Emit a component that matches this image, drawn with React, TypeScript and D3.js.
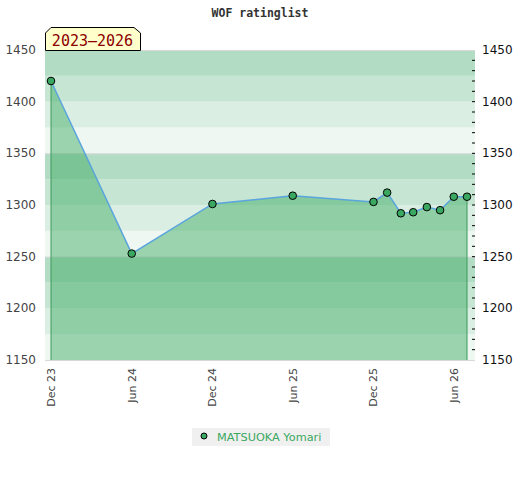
import React from 'react';
import * as d3 from 'd3';

const dates = [
  '2023-12-01', '2024-06-01', '2024-12-01', '2025-06-01', '2025-12-01', '2026-01-01',
  '2026-02-01', '2026-03-01', '2026-04-01', '2026-05-01', '2026-06-01', '2026-07-01',
];
const ratings = [1420, 1253, 1301, 1309, 1303, 1312, 1292, 1293, 1298, 1295, 1308, 1308];
const yTicks = [1150, 1200, 1250, 1300, 1350, 1400, 1450];
const xTickDates = ['2023-12-01', '2024-06-01', '2024-12-01', '2025-06-01', '2025-12-01', '2026-06-01'];
const playerName = 'MATSUOKA Yomari';
const chartTitle = 'WOF ratinglist';
const periodLabel = '2023\u20132026';

const W = 520;
const H = 480;
const plot = { left: 45, right: 475, top: 50, bottom: 360 };
const bandColors = ['#b2dcc3', '#c7e5d3', '#dbeee3', '#eef7f2'];
const green = '#3aa860';

type Pt = { date: Date; value: number };

export default function App() {
  const parse = (s: string) => new Date(s + 'T00:00:00');
  const data: Pt[] = dates.map((d, i) => ({ date: parse(d), value: ratings[i] }));

  const x = d3
    .scaleTime()
    .domain([data[0].date, data[data.length - 1].date])
    .range([51, 467]);
  const y = d3.scaleLinear().domain([1150, 1450]).range([plot.bottom, plot.top]);

  const line = d3
    .line<Pt>()
    .x(d => x(d.date))
    .y(d => y(d.value));
  const area = d3
    .area<Pt>()
    .x(d => x(d.date))
    .y0(y(1150))
    .y1(d => y(d.value));

  const bands = d3.range(1150, 1450, 25);
  const minorTicks = d3.range(1160, 1450, 10);
  const fmt = d3.timeFormat('%b %y');
  const first = data[0];
  const last = data[data.length - 1];

  return (
    <svg
      width={W}
      height={H}
      style={{ position: 'absolute', left: 0, top: 0, background: '#fff' }}
      fontFamily="DejaVu Sans, sans-serif"
    >
      <text
        x={260}
        y={17}
        textAnchor="middle"
        fontFamily="DejaVu Sans Mono, monospace"
        fontWeight="bold"
        fontSize={11.5}
        fill="#333"
      >
        {chartTitle}
      </text>

      {/* background bands */}
      {bands.map(b => {
        const idx = Math.round((1450 - (b + 25)) / 25) % 4;
        return (
          <rect
            key={b}
            x={plot.left}
            width={plot.right - plot.left}
            y={y(b + 25)}
            height={y(b) - y(b + 25)}
            fill={bandColors[idx]}
          />
        );
      })}
      {[1450, 1350, 1250, 1150].map(v => (
        <line
          key={v}
          x1={plot.left}
          x2={plot.right}
          y1={y(v) + 0.5}
          y2={y(v) + 0.5}
          stroke="#d8d8d8"
        />
      ))}

      {/* area and line */}
      <path d={area(data) ?? ''} fill="rgba(59,170,98,0.47)" />
      <line x1={x(first.date)} x2={x(first.date)} y1={y(first.value)} y2={y(1150)} stroke="#3a9a5a" strokeWidth={1} />
      <line x1={x(last.date)} x2={x(last.date)} y1={y(last.value)} y2={y(1150)} stroke="#3a9a5a" strokeWidth={1} />
      <path d={line(data) ?? ''} fill="none" stroke="#5aa5dd" strokeWidth={1.5} />
      {data.map((d, i) => (
        <circle key={i} cx={x(d.date)} cy={y(d.value)} r={3.8} fill={green} stroke="#000" strokeWidth={1} />
      ))}

      {/* left axis */}
      {yTicks.map(v => (
        <text key={'l' + v} x={36} y={y(v) + 4} textAnchor="end" fontSize={12} fill="#444">
          {v}
        </text>
      ))}
      {/* right axis */}
      {minorTicks.map(v => (
        <line key={'m' + v} x1={472} x2={475} y1={y(v)} y2={y(v)} stroke="#000" />
      ))}
      {yTicks.map(v => (
        <text key={'r' + v} x={482} y={y(v) + 4} fontSize={12} fill="#111">
          {v}
        </text>
      ))}

      {/* x axis labels */}
      {xTickDates.map(s => {
        const d = parse(s);
        const px = x(d) + 4;
        return (
          <text
            key={s}
            transform={`translate(${px},368) rotate(-90)`}
            textAnchor="end"
            fontSize={11}
            fill="#444"
          >
            {fmt(d)}
          </text>
        );
      })}

      {/* period label */}
      <path
        d={`M${plot.left + 0.5},50.5 V33 L51,27.5 H134 L140.5,33 V50.5 Z`}
        fill="#ffffcc"
        stroke="#000"
        strokeWidth={1}
      />
      <text x={92.5} y={46} textAnchor="middle" fontFamily="DejaVu Sans Mono, monospace" fontSize={15} fill="#8b0000">
        {periodLabel}
      </text>

      {/* legend */}
      <rect x={192} y={428} width={138} height={18} fill="#f0f0f0" />
      <circle cx={204} cy={436} r={3} fill={green} stroke="#000" strokeWidth={1} />
      <text x={217} y={441} fontSize={11.3} fill={green}>
        {playerName}
      </text>
    </svg>
  );
}
